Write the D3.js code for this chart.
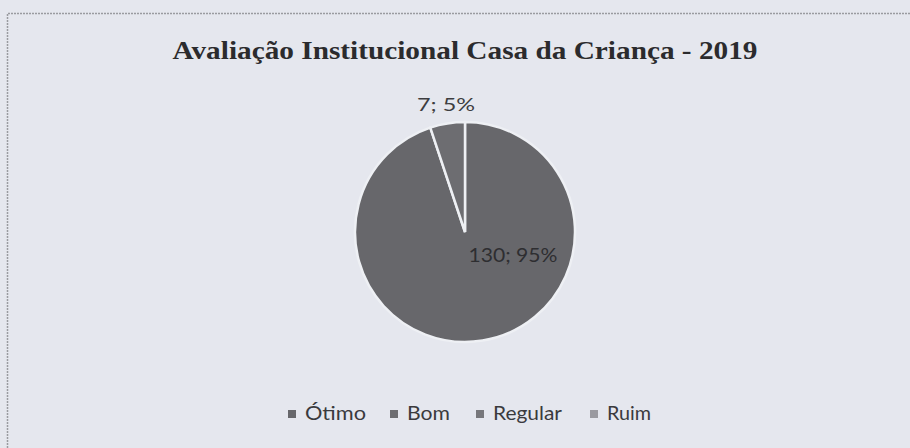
<!DOCTYPE html>
<html><head><meta charset="utf-8">
<script src="https://cdn.jsdelivr.net/npm/d3@7"></script>
<style>html,body{margin:0;padding:0;background:#e5e7ee;}svg{display:block;}</style>
</head><body>
<svg id="chart" width="910" height="448"></svg>
<script>
const title = "Avaliação Institucional Casa da Criança - 2019";
const categories = ["Ótimo", "Bom", "Regular", "Ruim"];
const values = [130, 7, 0, 0];
const percents = ["95%", "5%", "0%", "0%"];
const colors = ["#67676b", "#6d6d71", "#77777b", "#9a9aa0"];

const svg = d3.select("#chart");
const W = 910, H = 448;
svg.append("rect").attr("width", W).attr("height", H).attr("fill", "#e5e7ee");

// chart border (dotted scan look)
svg.append("path").attr("d", "M7.5,448 V13.5 H910")
  .attr("fill", "none").attr("stroke", "#9a9ba0").attr("stroke-width", 1.5)
  .attr("stroke-dasharray", "2,1");

svg.append("text").attr("x", 465).attr("y", 59).attr("text-anchor", "middle")
  .attr("font-family", "Liberation Serif").attr("font-weight", "bold")
  .attr("font-size", 25).attr("fill", "#2b2b2d")
  .attr("textLength", 585).attr("lengthAdjust", "spacingAndGlyphs").text(title);

const cx = 465, cy = 232, r = 110;
const data = categories.map((c, i) => ({cat: c, v: values[i], p: percents[i], color: colors[i]}));
const pie = d3.pie().sort(null).value(d => d.v);
const arcs = pie(data);
const arc = d3.arc().innerRadius(0).outerRadius(r);
const g = svg.append("g").attr("transform", `translate(${cx},${cy})`);
g.selectAll("path").data(arcs.filter(a => a.data.v > 0)).join("path")
  .attr("d", arc).attr("fill", d => d.data.color)
  .attr("stroke", "#eef0f4").attr("stroke-width", 2.5);

// labels
const labelPos = {"Ótimo": [cx + 48, cy + 30], "Bom": [446, 111]};
const labelLen = {"Ótimo": 89, "Bom": 58};
arcs.filter(a => a.data.v > 0).forEach(a => {
  const p = labelPos[a.data.cat];
  svg.append("text").attr("x", p[0]).attr("y", p[1]).attr("text-anchor", "middle")
    .attr("font-family", "Lato").attr("font-size", a.data.cat === "Bom" ? 18 : 19)
    .attr("fill", a.data.cat === "Bom" ? "#3d3d40" : "#2e2e31")
    .attr("textLength", labelLen[a.data.cat]).attr("lengthAdjust", "spacingAndGlyphs")
    .text(`${a.data.v}; ${a.data.p}`);
});

// legend
const legendX = [288, 390, 476, 590];
const legendLen = [61, 43, 69, 44];
const lg = svg.append("g");
data.forEach((d, i) => {
  lg.append("rect").attr("x", legendX[i]).attr("y", 410).attr("width", 8).attr("height", 8)
    .attr("fill", d.color);
  lg.append("text").attr("x", legendX[i] + 17).attr("y", 420)
    .attr("font-family", "Lato").attr("font-size", 20).attr("fill", "#3a3a3d")
    .attr("textLength", legendLen[i]).attr("lengthAdjust", "spacingAndGlyphs").text(d.cat);
});
</script>
</body></html>
